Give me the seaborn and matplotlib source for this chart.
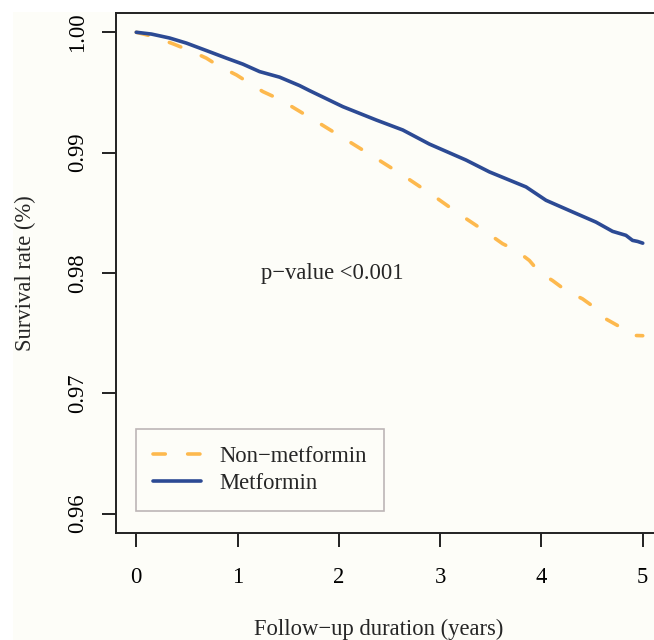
import matplotlib
matplotlib.use("Agg")
import matplotlib.pyplot as plt
from matplotlib.patches import Rectangle
import seaborn as sns
import pandas as pd

# ---- data ----
groups = ["Non\u2212metformin", "Metformin"]

metformin_time = [0.0, 0.15, 0.33, 0.495, 0.692, 0.89, 1.053, 1.218, 1.415, 1.612, 1.711,
                  2.039, 2.369, 2.631, 2.894, 3.256, 3.486, 3.848, 4.045, 4.308, 4.538,
                  4.702, 4.834, 4.899, 4.95, 5.0]
metformin_surv = [1.0, 0.99985, 0.99952, 0.9991, 0.99848, 0.99785, 0.99735, 0.99673, 0.99627,
                  0.99557, 0.99515, 0.99382, 0.99271, 0.99188, 0.99071, 0.98938, 0.9884,
                  0.98715, 0.98604, 0.98507, 0.98423, 0.98346, 0.98313, 0.98271, 0.98262, 0.98248]

nonmet_time = [0.0, 0.166, 0.363, 0.528, 0.692, 0.823, 0.988, 1.25, 1.415, 1.546, 1.81,
               2.105, 2.369, 2.631, 2.927, 3.207, 3.321, 3.454, 3.617, 3.75, 3.881, 3.979,
               4.11, 4.243, 4.406, 4.522, 4.637, 4.785, 4.88, 5.0]
nonmet_surv = [1.0, 0.99965, 0.99904, 0.99848, 0.99785, 0.99715, 0.99646, 0.99507, 0.99443,
               0.99377, 0.99243, 0.9909, 0.98952, 0.98813, 0.98646, 0.98479, 0.98415, 0.9834,
               0.98243, 0.98188, 0.98104, 0.98007, 0.97937, 0.97854, 0.97785, 0.97715,
               0.97618, 0.97548, 0.97482, 0.97479]

x_ticks = [0, 1, 2, 3, 4, 5]
y_ticks = [0.96, 0.97, 0.98, 0.99, 1.00]
y_tick_labels = ["0.96", "0.97", "0.98", "0.99", "1.00"]
annotation = "p\u2212value <0.001"
x_label = "Follow\u2212up duration (years)"
y_label = "Survival rate (%)"

# ---- style ----
sns.set_style("ticks")
plt.rcParams["font.family"] = ["Liberation Serif", "DejaVu Serif"]
BG = "#FDFDF8"
ORANGE = "#FDB94E"
BLUE = "#2C4A94"
FS = 16.3

df = pd.concat([
    pd.DataFrame({"time": nonmet_time, "surv": nonmet_surv, "group": groups[0]}),
    pd.DataFrame({"time": metformin_time, "surv": metformin_surv, "group": groups[1]}),
], ignore_index=True)

fig = plt.figure(figsize=(6.54, 6.40), dpi=100, facecolor=BG)
# white margins at top and left of the scanned reference
fig.add_artist(Rectangle((0, 0), 13 / 654, 1, transform=fig.transFigure,
                         facecolor="white", edgecolor="none", zorder=-10))
fig.add_artist(Rectangle((0, 1 - 12 / 640), 1, 12 / 640, transform=fig.transFigure,
                         facecolor="white", edgecolor="none", zorder=-10))

ax = fig.add_axes([116 / 654, (640 - 533) / 640, 547 / 654, 520 / 640])
ax.set_facecolor(BG)

sns.lineplot(data=df, x="time", y="surv", hue="group", style="group",
             hue_order=groups, style_order=groups,
             palette={groups[0]: ORANGE, groups[1]: BLUE},
             dashes={groups[0]: (3.4, 6.2), groups[1]: ""},
             estimator=None, sort=True, linewidth=2.6, legend=False, ax=ax)

for ln in ax.lines:
    ln.set_dash_capstyle("round")
    ln.set_solid_capstyle("round")

ax.set_xlim(-0.2, 5.2)
ax.set_ylim(0.9584, 1.0016)
ax.set_xticks(x_ticks)
ax.set_xticklabels([str(t) for t in x_ticks])
ax.set_yticks(y_ticks)
ax.set_yticklabels(y_tick_labels)

for s in ax.spines.values():
    s.set_visible(True)
    s.set_linewidth(1.4)
    s.set_color("#222222")

ax.tick_params(axis="both", direction="out", length=10, width=1.4, color="#222222",
               labelsize=FS, labelcolor="black")
ax.tick_params(axis="x", pad=14.5)
ax.tick_params(axis="y", pad=10)
for lab in ax.get_yticklabels():
    lab.set_rotation(90)
    lab.set_va("center")

ax.set_xlabel("")
ax.set_ylabel("")
fig.text(379 / 654, (640 - 635) / 640, x_label, ha="center", va="baseline", fontsize=FS)
fig.text(25 / 654, 1 - 273 / 640, y_label, ha="center", va="center", rotation=90, fontsize=FS)

ax.text(1.93, 0.98, annotation, ha="center", va="center", fontsize=FS)

handles = ax.lines[:2]
leg = ax.legend(handles, groups, loc="lower left", bbox_to_anchor=(20 / 547, 22 / 520),
                borderaxespad=0, fontsize=FS, frameon=True, fancybox=False,
                handlelength=2.1, handletextpad=0.85, borderpad=0.75, labelspacing=0.28,
                framealpha=1.0)
leg.get_frame().set_edgecolor("#BDB6B6")
leg.get_frame().set_linewidth(1.2)
leg.get_frame().set_facecolor(BG)

fig.savefig("out.png", dpi=100, facecolor=BG)
